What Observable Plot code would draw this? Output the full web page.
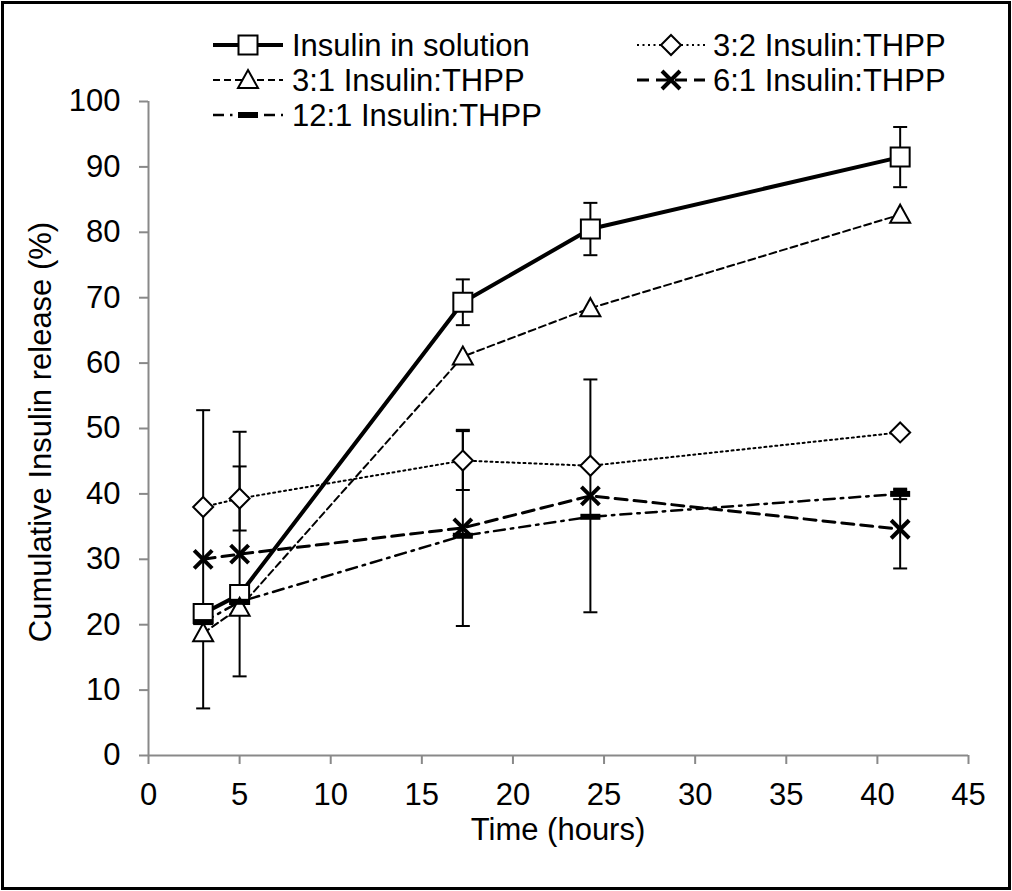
<!DOCTYPE html>
<html>
<head>
<meta charset="utf-8">
<script src="https://cdn.jsdelivr.net/npm/d3@7"></script>
<script src="https://cdn.jsdelivr.net/npm/@observablehq/plot@0.6"></script>
<style>
  body { margin: 0; background: #fff; }
  #wrap { position: relative; width: 1012px; height: 891px; font-family: "Liberation Sans", Arial, sans-serif; color: #000; }
  #wrap > svg.plot { position: absolute; left: 0; top: 0; }
  #legend { position: absolute; left: 0; top: 0; }
  #frame { position: absolute; left: 1px; top: 1px; width: 1010px; height: 889px; border: 3px solid #000; box-sizing: border-box; pointer-events: none; }
  .title { position: absolute; font-size: 31px; white-space: nowrap; line-height: 1; }
  #xtitle { left: 558px; top: 829px; transform: translate(-50%, -50%); }
  #ytitle { left: 40px; top: 432px; transform: translate(-50%, -50%) rotate(-90deg); }
</style>
</head>
<body>
<div id="wrap">
  <div id="frame"></div>
  <div class="title" id="xtitle">Time (hours)</div>
  <div class="title" id="ytitle">Cumulative Insulin release (%)</div>
</div>
<script>
// ---- data ----
const time = [3, 5, 17.25, 24.25, 41.25];
const seriesNames = ["Insulin in solution", "3:2 Insulin:THPP", "3:1 Insulin:THPP", "6:1 Insulin:THPP", "12:1 Insulin:THPP"];
const solution    = [21.7, 24.6, 69.3, 80.5, 91.5];
const solutionErr = [0, 0, 3.5, 4.0, 4.6];
const ratio32     = [38.0, 39.3, 45.1, 44.3, 49.4];
const ratio32Err  = [0, 4.9, 4.5, 0, 0];
const ratio31     = [18.7, 22.6, 61.0, 68.4, 82.7];
const ratio31Err  = [0, 0, 0, 0, 0];
const ratio61     = [30.0, 30.8, 34.8, 39.7, 34.6];
const ratio61Err  = [22.8, 18.7, 15.0, 17.8, 6.0];
const ratio121    = [20.4, 23.5, 33.6, 36.5, 40.0];
const ratio121Err = [0, 0, 0, 0, 0.8];
const xTicks = [0, 5, 10, 15, 20, 25, 30, 35, 40, 45];
const yTicks = [0, 10, 20, 30, 40, 50, 60, 70, 80, 90, 100];

// ---- marker shapes (pixel styles) ----
const symSquare   = {draw(c) { c.rect(-9.5, -9.5, 19, 19); }};
const symDiamond  = {draw(c) { c.moveTo(0, -10); c.lineTo(10, 0); c.lineTo(0, 10); c.lineTo(-10, 0); c.closePath(); }};
const symTriangle = {draw(c) { c.moveTo(0, -10); c.lineTo(10, 8); c.lineTo(-10, 8); c.closePath(); }};
const symTimes    = {draw(c) { c.moveTo(-9, -9); c.lineTo(9, 9); c.moveTo(-9, 9); c.lineTo(9, -9); }};
const symBar      = {draw(c) { c.rect(-10, -3, 20, 6); }};
const symCap      = {draw(c) { c.moveTo(-7, 0); c.lineTo(7, 0); }};

const styles = [
  {symbol: symSquare,   fill: "white", stroke: "black", markerWidth: 2,   lineWidth: 4,   dash: null},
  {symbol: symDiamond,  fill: "white", stroke: "black", markerWidth: 2,   lineWidth: 2,   dash: "2,3.5"},
  {symbol: symTriangle, fill: "white", stroke: "black", markerWidth: 2,   lineWidth: 2,   dash: "7,4"},
  {symbol: symTimes,    fill: "none",  stroke: "black", markerWidth: 4,   lineWidth: 3,   dash: "12,7"},
  {symbol: symBar,      fill: "black", stroke: "none",  markerWidth: 0,   lineWidth: 2.5, dash: "11,6,2.5,6"}
];

const values = [solution, ratio32, ratio31, ratio61, ratio121];
const errors = [solutionErr, ratio32Err, ratio31Err, ratio61Err, ratio121Err];

const table = [];
seriesNames.forEach((name, s) => {
  time.forEach((t, i) => {
    table.push({series: name, s, time: t, value: values[s][i], err: errors[s][i],
                lo: values[s][i] - errors[s][i], hi: values[s][i] + errors[s][i]});
  });
});

const lineMarks = [], errMarks = [], dotMarks = [];
seriesNames.forEach((name, s) => {
  const st = styles[s];
  const d = table.filter(r => r.s === s);
  const e = d.filter(r => r.err > 0);
  lineMarks.push(Plot.line(d, {x: "time", y: "value", stroke: "black", strokeWidth: st.lineWidth,
    strokeDasharray: st.dash, strokeLinejoin: "round"}));
  errMarks.push(Plot.ruleX(e, {x: "time", y1: "lo", y2: "hi", stroke: "black", strokeWidth: 2}));
  errMarks.push(Plot.dot(e, {x: "time", y: "hi", symbol: symCap, r: 5, stroke: "black", strokeWidth: 2, fill: "none"}));
  errMarks.push(Plot.dot(e, {x: "time", y: "lo", symbol: symCap, r: 5, stroke: "black", strokeWidth: 2, fill: "none"}));
  dotMarks.push(Plot.dot(d, {x: "time", y: "value", symbol: st.symbol, r: 5, fill: st.fill,
    stroke: st.stroke, strokeWidth: st.markerWidth}));
});

const plot = Plot.plot({
  width: 1012,
  height: 891,
  marginLeft: 148,
  marginRight: 44,
  marginTop: 101,
  marginBottom: 136,
  style: {fontFamily: '"Liberation Sans", Arial, sans-serif', fontSize: "31px", color: "black", background: "transparent", overflow: "visible"},
  x: {domain: [0, 45]},
  y: {domain: [0, 100]},
  marks: [
    Plot.ruleX([0], {stroke: "#898989", strokeWidth: 2}),
    Plot.ruleY([0], {stroke: "#898989", strokeWidth: 2}),
    Plot.axisX({ticks: xTicks, tickSize: 9, tickPadding: 18, stroke: "#898989", strokeWidth: 2, color: "black", label: null}),
    Plot.axisY({ticks: yTicks, tickSize: 9, tickPadding: 19, stroke: "#898989", strokeWidth: 2, color: "black", label: null}),
    ...lineMarks,
    ...errMarks,
    ...dotMarks
  ]
});
plot.classList.add("plot");
document.getElementById("wrap").prepend(plot);

// ---- legend ----
const legendPos = [
  {x: 213, y: 45, w: 70, tx: 292},
  {x: 637, y: 45, w: 68, tx: 713},
  {x: 213, y: 80, w: 70, tx: 292},
  {x: 637, y: 80, w: 68, tx: 713},
  {x: 213, y: 115, w: 70, tx: 292}
];
const lg = d3.create("svg").attr("id", "legend").attr("width", 1012).attr("height", 150)
  .style("font-family", '"Liberation Sans", Arial, sans-serif').style("font-size", "31px");
seriesNames.forEach((name, s) => {
  const st = styles[s], p = legendPos[s];
  const g = lg.append("g");
  g.append("line").attr("x1", p.x).attr("x2", p.x + p.w).attr("y1", p.y).attr("y2", p.y)
    .attr("stroke", "black").attr("stroke-width", st.lineWidth).attr("stroke-dasharray", st.dash);
  g.append("path").attr("d", d3.symbol(st.symbol)()).attr("transform", `translate(${p.x + p.w / 2},${p.y})`)
    .attr("fill", st.fill).attr("stroke", st.stroke).attr("stroke-width", st.markerWidth);
  g.append("text").attr("x", p.tx).attr("y", p.y).attr("dy", "0.35em").text(name);
});
document.getElementById("wrap").appendChild(lg.node());
</script>
</body>
</html>
